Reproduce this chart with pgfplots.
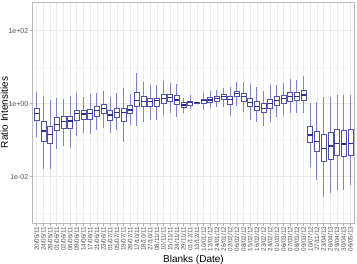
\documentclass[border=0pt]{standalone}
\usepackage{pgfplots}
\pgfplotsset{compat=1.18}
\usepgfplotslibrary{statistics}
\usepackage{fontspec}
\setmainfont{Liberation Sans}
\definecolor{boxc}{RGB}{80,80,175}
\definecolor{whc}{RGB}{130,130,205}
\definecolor{medc}{RGB}{45,45,150}
\definecolor{tickc}{RGB}{77,77,77}

% draw position, lower whisker, lower quartile, median, upper quartile, upper whisker
\newcommand{\bx}[6]{\addplot[boxplot prepared={draw position=#1, lower whisker=#2, lower quartile=#3, median=#4, upper quartile=#5, upper whisker=#6}] coordinates {};}

\begin{document}
\begin{tikzpicture}[x=1pt,y=1pt]
\begin{axis}[
  at={(32.7pt,41pt)}, anchor=south west,
  scale only axis, width=321.6pt, height=221pt,
  ymode=log, ymin=5.4e-4, ymax=611,
  xmin=0.4, xmax=48.6,
  axis line style={gray!55},
  tick align=outside, major tick length=2.75pt,
  tick style={gray!60, line width=0.5pt},
  xtick pos=bottom, ytick pos=left,
  xtick={1,...,48},
  xticklabels={20/05/11,24/05/11,26/05/11,01/06/11,02/06/11,06/06/11,09/06/11,14/06/11,17/06/11,21/06/11,23/06/11,01/07/11,05/07/11,19/07/11,26/07/11,17/10/11,18/10/11,27/10/11,08/11/11,10/11/11,15/11/11,24/11/11,29/11/11,01/12/11,13/12/11,10/01/12,12/01/12,24/01/12,26/01/12,02/02/12,06/02/12,08/02/12,15/02/12,16/02/12,23/02/12,24/02/12,01/03/12,06/03/12,07/03/12,08/03/12,09/03/12,10/07/12,27/11/12,23/04/13,26/04/13,29/04/13,30/04/13,06/05/13},
  xticklabel style={rotate=90, anchor=east, inner sep=1pt, font=\fontsize{6.3}{7}\selectfont, text=tickc},
  ytick={0.01,1,100},
  yticklabels={1e-02,1e+00,1e+02},
  yticklabel style={font=\fontsize{7}{8}\selectfont, text=tickc, inner sep=1.5pt},
  minor ytick={0.001,0.1,10},
  minor tick length=0pt,
  xmajorgrids, ymajorgrids, yminorgrids,
  major grid style={gray!16, line width=0.5pt},
  minor grid style={gray!8, line width=0.4pt},
  xlabel={Blanks (Date)},
  ylabel={Ratio Intensities},
  xlabel style={font=\fontsize{10}{12}\selectfont, at={(axis description cs:0.5,0)}, anchor=north, inner sep=0pt, yshift=-32pt},
  ylabel style={font=\fontsize{10}{12}\selectfont, at={(axis description cs:0,0.5)}, anchor=south, inner sep=0pt, yshift=24.5pt},
  boxplot/draw direction=y,
  boxplot/box extend=0.75,
  boxplot/whisker extend=0,
  boxplot/every box/.style={draw=boxc, fill=white, line width=0.55pt},
  boxplot/every whisker/.style={draw=whc, line width=0.9pt},
  boxplot/every median/.style={draw=medc, line width=1.1pt},
]
\bx{1}{0.125}{0.357}{0.546}{0.748}{2.05}
\bx{2}{0.0163}{0.095}{0.179}{0.321}{1.66}
\bx{3}{0.016}{0.082}{0.145}{0.245}{1.26}
\bx{4}{0.0563}{0.190}{0.273}{0.424}{1.41}
\bx{5}{0.0694}{0.212}{0.321}{0.441}{1.32}
\bx{6}{0.060}{0.212}{0.336}{0.460}{1.63}
\bx{7}{0.130}{0.357}{0.546}{0.672}{1.93}
\bx{8}{0.160}{0.374}{0.522}{0.672}{1.56}
\bx{9}{0.148}{0.374}{0.546}{0.703}{1.84}
\bx{10}{0.190}{0.460}{0.643}{0.828}{1.93}
\bx{11}{0.212}{0.546}{0.748}{0.963}{2.23}
\bx{12}{0.155}{0.357}{0.490}{0.672}{1.56}
\bx{13}{0.190}{0.424}{0.567}{0.748}{1.93}
\bx{14}{0.091}{0.321}{0.567}{0.748}{2.64}
\bx{15}{0.261}{0.546}{0.672}{0.881}{1.81}
\bx{16}{0.245}{0.828}{1.19}{2.00}{7.07}
\bx{17}{0.321}{0.828}{1.13}{1.56}{4.01}
\bx{18}{0.357}{0.828}{1.13}{1.41}{3.25}
\bx{19}{0.357}{0.865}{1.19}{1.41}{3.25}
\bx{20}{0.490}{1.03}{1.35}{1.81}{4.19}
\bx{21}{0.567}{1.13}{1.46}{1.84}{3.62}
\bx{22}{0.424}{0.963}{1.26}{1.66}{3.40}
\bx{23}{0.567}{0.777}{0.921}{1.07}{1.41}
\bx{24}{0.716}{0.921}{1.07}{1.19}{1.73}
\bx{25}{1.02}{1.04}{1.07}{1.10}{1.12}
\bx{26}{0.672}{1.03}{1.19}{1.35}{2.00}
\bx{27}{0.748}{1.09}{1.26}{1.46}{2.23}
\bx{28}{0.797}{1.19}{1.41}{1.56}{2.37}
\bx{29}{0.828}{1.32}{1.56}{1.81}{2.64}
\bx{30}{0.460}{0.963}{1.32}{1.56}{2.92}
\bx{31}{0.865}{1.56}{1.93}{2.23}{4.01}
\bx{32}{0.604}{1.19}{1.56}{1.93}{3.86}
\bx{33}{0.357}{0.828}{1.07}{1.41}{3.40}
\bx{34}{0.309}{0.672}{0.828}{1.13}{2.92}
\bx{35}{0.250}{0.581}{0.748}{1.03}{2.27}
\bx{36}{0.321}{0.748}{1.03}{1.35}{3.25}
\bx{37}{0.441}{0.921}{1.21}{1.56}{3.25}
\bx{38}{0.490}{1.03}{1.41}{1.73}{3.62}
\bx{39}{0.546}{1.13}{1.56}{2.00}{4.66}
\bx{40}{0.546}{1.21}{1.56}{2.05}{4.46}
\bx{41}{0.546}{1.26}{1.73}{2.27}{5.74}
\bx{42}{0.0188}{0.0854}{0.139}{0.234}{1.07}
\bx{43}{0.00813}{0.0506}{0.091}{0.179}{1.13}
\bx{44}{0.00273}{0.0269}{0.060}{0.145}{1.50}
\bx{45}{0.0035}{0.030}{0.0694}{0.160}{1.56}
\bx{46}{0.00432}{0.0393}{0.082}{0.199}{1.73}
\bx{47}{0.00432}{0.0353}{0.0787}{0.190}{1.73}
\bx{48}{0.00593}{0.0393}{0.082}{0.199}{1.73}
\end{axis}
\pgfresetboundingbox
\path[use as bounding box] (0,0) rectangle (357,264);
\end{tikzpicture}
\end{document}
